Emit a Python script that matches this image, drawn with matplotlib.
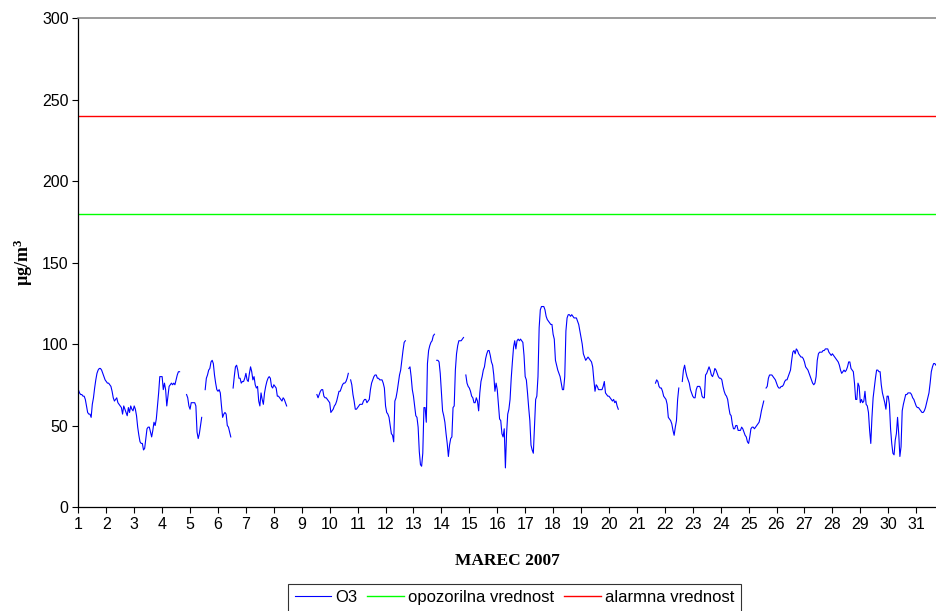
import matplotlib
matplotlib.use('Agg')
import matplotlib.pyplot as plt
import numpy as np
from matplotlib import rcParams

rcParams['font.family'] = 'Liberation Sans'
rcParams['mathtext.default'] = 'regular'  # superscript in the label font

## hourly O3 concentrations (ug/m3), one list per day, None = no measurement
mar01 = [72, 70, 69, 69, 68, 68, 66, 62, 58, 57, 57, 55, 63, 67, 73, 78, 82, 84, 85, 85, 84, 82, 80, 78]
mar02 = [77, 76, 76, 75, 74, 71, 67, 65, 66, 67, 64, 63, 62, 61, 57, 62, 60, 58, 56, 61, 58, 62, 60, 59]
mar03 = [62, 60, 56, 49, 44, 40, 39, 39, 35, 36, 42, 48, 49, 49, 46, 43, 47, 52, 50, 54, 62, 70, 80, 80]
mar04 = [80, 72, 76, 72, 62, 68, 74, 75, 76, 75, 76, 75, 78, 81, 83, 83, None, None, None, None, None, 69, 67, 62]
mar05 = [60, 64, 64, 64, 64, 62, 46, 42, 45, 50, 55, None, None, 72, 79, 81, 84, 85, 89, 90, 88, 81, 76, 72]
mar06 = [71, 72, 70, 62, 55, 57, 58, 57, 50, 49, 46, 43, None, 73, 80, 86, 87, 84, 79, 79, 76, 77, 77, 79]
mar07 = [82, 78, 77, 82, 86, 83, 78, 80, 75, 73, 74, 65, 62, 70, 66, 63, 70, 74, 77, 79, 80, 79, 74, 73]
mar08 = [75, 74, 73, 68, 68, 67, 66, 65, 67, 66, 64, 62, None, None, None, None, None, None, None, None, None, None, None, None]
mar09 = [None, None, None, None, None, None, None, None, None, None, None, None, None, 69, 67, 69, 71, 72, 72, 68, 67, 67, 66, 65]
mar10 = [64, 58, 59, 60, 62, 63, 65, 68, 71, 71, 73, 75, 76, 76, 77, 79, 82, None, 78, 75, 69, 65, 60, 60]
mar11 = [61, 62, 63, 63, 63, 65, 66, 66, 64, 65, 66, 72, 76, 78, 80, 81, 81, 79, 79, 78, 78, 78, 76, 73]
mar12 = [62, 58, 57, 55, 50, 45, 44, 40, 65, 67, 71, 76, 81, 84, 90, 96, 101, 102, None, None, 85, 86, 80, 72]
mar13 = [68, 62, 56, 55, 49, 34, 26, 25, 33, 61, 61, 52, 88, 96, 99, 101, 102, 105, 106, None, 90, 90, 89, 82]
mar14 = [70, 59, 56, 52, 45, 39, 31, 38, 42, 43, 61, 62, 84, 94, 99, 102, 102, 102, 103, 104, None, 81, 76, 74]
mar15 = [73, 71, 68, 67, 64, 64, 67, 65, 59, 70, 77, 80, 84, 86, 91, 94, 96, 96, 93, 89, 87, 81, 71, 76]
mar16 = [72, 63, 54, 53, 45, 43, 48, 24, 45, 57, 60, 66, 79, 89, 98, 102, 97, 102, 103, 102, 103, 102, 101, 93]
mar17 = [80, 78, 70, 61, 53, 38, 35, 33, 50, 66, 68, 80, 110, 121, 123, 123, 123, 121, 117, 115, 114, 113, 112, 112]
mar18 = [106, 103, 90, 87, 84, 82, 80, 76, 72, 72, 80, 108, 116, 118, 118, 117, 118, 117, 116, 116, 116, 114, 112, 108]
mar19 = [104, 100, 94, 92, 90, 91, 92, 91, 90, 89, 86, 78, 71, 75, 74, 72, 72, 72, 72, 74, 77, 70, 69, 68]
mar20 = [68, 67, 66, 65, 66, 64, 65, 62, 60, None, None, None, None, None, None, None, None, None, None, None, None, None, None, None]
mar21 = [None, None, None, None, None, None, None, None, None, None, None, None, None, None, None, None, 76, 78, 77, 74, 73, 73, 71, 68]
mar22 = [67, 66, 63, 55, 54, 53, 51, 47, 44, 49, 53, 66, 73, None, None, 77, 84, 87, 83, 80, 78, 76, 72, 70]
mar23 = [68, 67, 67, 72, 74, 74, 74, 72, 68, 67, 67, 81, 82, 84, 86, 84, 81, 80, 82, 85, 84, 82, 80, 79]
mar24 = [79, 78, 74, 71, 69, 68, 66, 61, 57, 56, 51, 48, 48, 50, 50, 47, 47, 47, 49, 48, 46, 44, 43, 40]
mar25 = [39, 43, 48, 49, 49, 48, 49, 50, 51, 52, 55, 59, 62, 65, None, 73, 74, 79, 81, 81, 81, 80, 79, 78]
mar26 = [76, 74, 73, 73, 74, 74, 75, 77, 78, 78, 80, 82, 84, 90, 95, 96, 94, 97, 96, 94, 93, 92, 92, 91]
mar27 = [89, 86, 85, 84, 82, 80, 78, 76, 75, 76, 80, 90, 94, 95, 95, 95, 96, 96, 97, 97, 97, 95, 94, 93]
mar28 = [94, 93, 92, 91, 90, 89, 87, 84, 82, 83, 84, 83, 84, 86, 89, 89, 85, 84, 83, 76, 66, 66, 76, 74]
mar29 = [64, 66, 64, 65, 71, 63, 62, 58, 47, 39, 55, 67, 73, 79, 84, 84, 83, 83, 75, 70, 67, 64, 60, 68]
mar30 = [68, 63, 48, 39, 33, 32, 41, 45, 55, 45, 31, 37, 59, 63, 66, 69, 69, 70, 70, 70, 69, 67, 66, 64]
mar31 = [62, 61, 61, 60, 59, 58, 58, 59, 61, 64, 67, 70, 76, 83, 86, 88, 88, 87]

days = [mar01, mar02, mar03, mar04, mar05, mar06, mar07, mar08, mar09, mar10,
        mar11, mar12, mar13, mar14, mar15, mar16, mar17, mar18, mar19, mar20,
        mar21, mar22, mar23, mar24, mar25, mar26, mar27, mar28, mar29, mar30, mar31]

## limit values
opozorilna = 180  # information threshold
alarmna = 240     # alert threshold

day_ticks = list(range(1, 32))

# build one hourly series, gaps as NaN so the line breaks there
o3 = np.array([np.nan if v is None else v for d in days for v in d], dtype=float)
t = 1 + np.arange(len(o3)) / 24.0

fig = plt.figure(figsize=(9.36, 6.11), dpi=100)
ax = fig.add_axes([0.0837, 0.1702, 0.9163, 0.8003])

ax.plot(t, o3, color='#0000FF', linewidth=0.8, label='O3')
ax.axhline(opozorilna, color='#00FF00', linewidth=1.0, label='opozorilna vrednost')
ax.axhline(alarmna, color='#FF0000', linewidth=1.0, label='alarmna vrednost')

ax.set_xlim(1, 31.71)
ax.set_ylim(0, 300)
ax.set_xticks(day_ticks)
ax.set_yticks(np.arange(0, 301, 50))
ax.tick_params(direction='out', length=4, width=0.8, labelsize=11.5, pad=3)

# plot area frame: black axes, grey top border, no right border
ax.spines['left'].set_linewidth(0.9)
ax.spines['bottom'].set_linewidth(0.9)
ax.spines['top'].set_color('#808080')
ax.spines['top'].set_linewidth(1.1)
ax.spines['right'].set_visible(False)

ax.set_xlabel('MAREC 2007', family='Liberation Serif', fontweight='bold', fontsize=12.5, labelpad=15)
ax.set_ylabel('µg/m$^{3}$', family='Liberation Serif', fontweight='bold', fontsize=13, labelpad=5)

leg = fig.legend(loc='upper center', bbox_to_anchor=(0.5497, 0.0442), ncol=3, fontsize=12,
                 frameon=True, fancybox=False, shadow=False, borderpad=0.38,
                 handlelength=2.2, handletextpad=0.24, columnspacing=0.6, borderaxespad=0)
leg.get_frame().set_edgecolor('black')
leg.get_frame().set_linewidth(0.8)

plt.savefig('out.png', dpi=100)
